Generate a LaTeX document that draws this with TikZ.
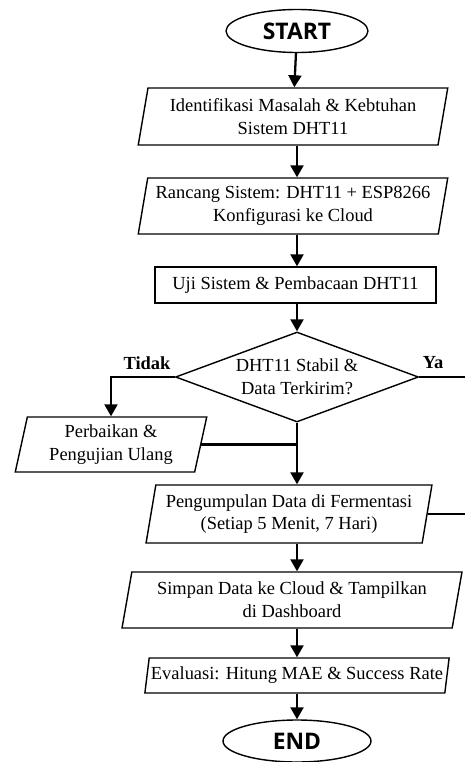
\documentclass[tikz,border=0pt]{standalone}
\usepackage{fontspec}
\setmainfont{Liberation Serif}
\newfontfamily\termfont{Open Sans}
\usetikzlibrary{shapes.geometric,arrows.meta}
\tikzstyle{term} = [draw=black, ellipse, line width=0.8pt, minimum width=2.84cm, minimum height=0.86cm, inner sep=0pt, font={\termfont\bfseries\fontsize{13}{15}\selectfont}]
\tikzstyle{io} = [draw=black, trapezium, trapezium left angle=78, trapezium right angle=102, trapezium stretches=true, line width=0.8pt, align=center, inner sep=1pt, font={\fontsize{10.5}{13}\selectfont}]
\tikzstyle{proc} = [draw=black, rectangle, line width=0.8pt, align=center, font={\fontsize{10.5}{13}\selectfont}]
\tikzstyle{decision} = [draw=black, diamond, aspect=2.7, line width=0.8pt, align=center, inner sep=0pt, font={\fontsize{10.5}{13}\selectfont}]
\tikzstyle{flow} = [line width=1.3pt]
\tikzstyle{answer} = [font={\bfseries\fontsize{10.5}{13}\selectfont}]

\begin{document}
\begin{tikzpicture}[>={Triangle[length=2.4mm,width=2.6mm]}]
    \useasboundingbox (0,0) rectangle (9.3,-15.24);
    \clip (0,0) rectangle (9.3,-15.24);
    \node[term](0) at (5.94,-0.62){START};
    \node[io,minimum width=6.2cm,minimum height=1.14cm](1) at (5.86,-2.33){Identifikasi Masalah \& Kebtuhan\\Sistem DHT11};
    \node[io,minimum width=6.2cm,minimum height=1.12cm](2) at (5.86,-4.12){Rancang Sistem: DHT11 + ESP8266\\Konfigurasi ke Cloud};
    \node[proc,minimum width=5.62cm,minimum height=0.72cm](3) at (5.91,-5.70){Uji Sistem \& Pembacaan DHT11};
    \node[decision,minimum width=4.86cm,minimum height=1.8cm](4) at (5.94,-7.54){DHT11 Stabil \&\\Data Terkirim?};
    \node[io,minimum width=3.86cm,minimum height=1.1cm](5) at (2.22,-8.89){Perbaikan \&\\Pengujian Ulang};
    \node[io,minimum width=5.72cm,minimum height=1.16cm](6) at (5.78,-10.28){Pengumpulan Data di Fermentasi\\(Setiap 5 Menit, 7 Hari)};
    \node[io,minimum width=6.8cm,minimum height=1.12cm](7) at (5.84,-12.00){Simpan Data ke Cloud \& Tampilkan\\di Dashboard};
    \node[io,minimum width=5.94cm,minimum height=0.7cm](8) at (5.94,-13.51){Evaluasi: Hitung MAE \& Success Rate};
    \node[term,minimum width=2.96cm,minimum height=0.84cm](9) at (5.94,-14.82){END};
    \node[answer](tidak) at (2.94,-7.26){Tidak};
    \node[answer](ya) at (8.66,-7.26){Ya};
    \draw[flow,->](0)--(1);
    \draw[flow,->](0 |- 1.south)--(0 |- 2.north);
    \draw[flow,->](0 |- 2.south)--(0 |- 3.north);
    \draw[flow,->](0 |- 3.south)--(4.north);
    \draw[flow,->](4.west)-|(5);
    \draw[flow](5.east)--(5.east -| 4.south);
    \draw[flow,->](4.south)--(4.south |- 6.north);
    \draw[flow](4.east)--++(1.3,0)|-(6.east);
    \draw[flow,->](0 |- 6.south)--(0 |- 7.north);
    \draw[flow,->](0 |- 7.south)--(0 |- 8.north);
    \draw[flow,->](0 |- 8.south)--(9);
  \end{tikzpicture}
\end{document}
